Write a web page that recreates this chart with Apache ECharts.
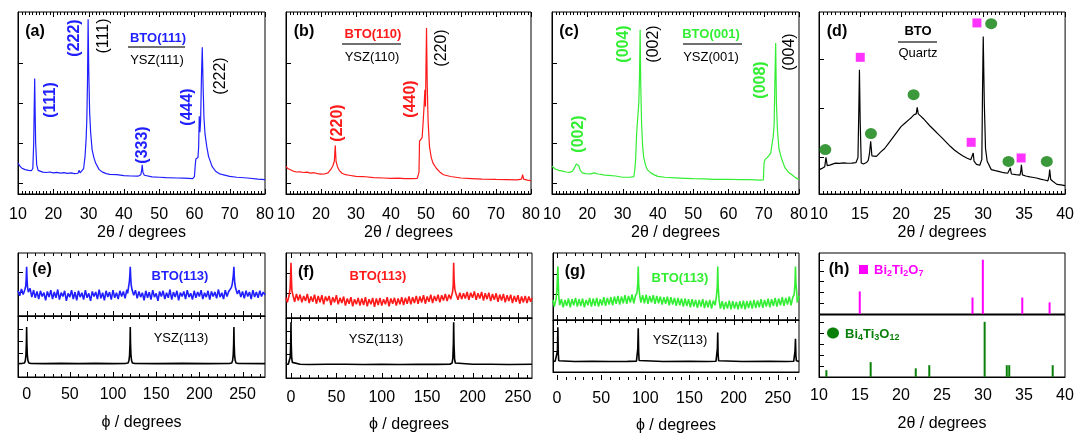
<!DOCTYPE html>
<html><head><meta charset="utf-8">
<script src="https://cdn.jsdelivr.net/npm/echarts@6/dist/echarts.min.js"></script>
<style>html,body{margin:0;padding:0;background:#fff}#c{width:1077px;height:435px}</style>
</head><body><div id="c"></div>
<script>
// ---------------- DATA ----------------
const ticks2theta = [10,20,30,40,50,60,70,80];
const ticks2thetaD = [10,15,20,25,30,35,40];
const ticksPhi = [0,50,100,150,200,250];

// (a) BTO(111)/YSZ(111) theta-2theta
const xrdA = [[10,17.0],[10.5,15.5],[11,14.3],[12,13.4],[13,13.0],[13.8,12.8],[14.2,14],[14.45,28],[14.6,48],[14.73,63.4],[14.85,46],[15.0,28],[15.3,16],[15.7,13],[16,12.4],[17,12.0],[18,11.8],[19,12.1],[20,11.6],[21,11.9],[22,11.5],[23,11.7],[24,11.3],[25,11.6],[26,11.2],[27,11.4],[27.3,13.0],[27.6,11.6],[28,11.8],[28.6,14],[29,20.7],[29.3,30],[29.5,40.8],[29.7,62],[29.87,96],[30.05,68],[30.3,45],[30.6,33.5],[31,24.4],[31.5,20],[32,17],[33,13.4],[34,12],[35,11.2],[36,10.8],[38,10.6],[40,10.1],[42,9.9],[44,9.8],[44.8,10.6],[45.05,13],[45.2,16],[45.4,12],[45.8,10.3],[46,10],[48,9.4],[50,9.2],[52,9.0],[55,8.8],[57,8.7],[59.5,8.4],[60,9.5],[60.2,15],[60.4,19.2],[61,20],[61.2,26],[61.37,42.7],[61.55,34],[61.75,40],[62.0,65],[62.22,80.6],[62.45,60],[62.7,42],[63,33],[63.5,26],[64,20.7],[65,15.2],[66,12.5],[67,11.2],[68,10.6],[70,9.7],[72,9.2],[75,8.8],[78,8.2],[80,7.9]];
// (b) BTO(110)/YSZ(110)
const xrdB = [[10,15.2],[10.5,14],[11,13.4],[12,12.6],[13,12.1],[14,12.2],[15,11.8],[16,12.0],[17,11.5],[18,11.7],[19,11.2],[20,10.9],[21,11.0],[22,11.6],[22.8,13.5],[23.4,15.5],[23.8,18],[24.08,26.7],[24.3,18],[24.7,15],[25.2,13],[26,11.4],[27,10.6],[28,10.3],[30,9.7],[32,9.6],[35,9.0],[38,8.8],[40,8.6],[42,8.7],[44,8.5],[46,8.4],[47.5,8.6],[48.0,12],[48.15,29],[48.6,30],[48.9,31],[49.2,40],[49.5,50],[49.68,57.3],[49.85,48],[50.0,70],[50.15,91.2],[50.35,60],[50.6,40],[51,26],[51.5,20],[52,17],[53,14],[54,12],[55,10.6],[57,9.6],[60,8.8],[63,8.5],[66,8.2],[70,8.0],[73,7.9],[76,7.8],[77.3,8.2],[77.6,10.6],[77.9,8.2],[79,7.6],[80,7.3]];
// (c) BTO(001)/YSZ(001)
const xrdC = [[10,15.2],[10.5,14.3],[11,13.6],[12,13.0],[13,12.6],[14,12.1],[15,11.9],[15.8,12.5],[16.4,14.5],[16.9,16.5],[17.2,17.0],[17.6,15.5],[18,13],[18.6,11.6],[19.5,11.2],[20,11.0],[21,11.1],[22,11.6],[23,11.0],[24,10.8],[25,10.3],[26,10.2],[28,9.9],[30,9.2],[32,9.2],[33.2,9.5],[33.5,14],[33.7,19],[34.0,33.5],[34.3,42],[34.6,50],[34.8,64.7],[34.98,90.3],[35.15,60],[35.4,38],[35.7,26],[36,20],[36.5,16],[37,13.4],[38,11.6],[39,10.5],[40,9.7],[42,9.2],[45,8.9],[48,8.6],[50,8.4],[53,8.3],[56,8.0],[60,8.1],[63,7.9],[66,7.9],[69,7.6],[69.9,7.8],[70.1,17],[70.4,19],[71,20],[71.5,21],[72,22.5],[72.4,28],[72.7,31.7],[72.95,38],[73.15,60],[73.39,83],[73.6,50],[73.9,35],[74.3,25],[75,19.8],[76,14.5],[77,12],[78,10.6],[79,9],[80,7.9]];
// (d) BTO on quartz
const xrdD = [[10,13.4],[10.4,14.1],[10.7,15],[10.85,20.1],[11.0,15.6],[11.3,15.9],[12,17],[12.5,16.8],[13,17.1],[13.5,16.9],[14,17.0],[14.5,17.2],[14.75,20],[14.85,45],[14.93,68.3],[15.02,40],[15.15,17],[15.4,16.5],[15.8,17.3],[16.0,18.5],[16.15,22],[16.3,28.9],[16.45,21],[16.6,20],[17,20.7],[17.5,23],[18,25],[18.5,28],[19,31],[19.5,34],[20,37],[20.5,39],[21,41],[21.3,42.2],[21.6,43.6],[21.85,44],[21.97,47.6],[22.1,44],[22.4,42.8],[22.7,41.5],[23,40],[23.5,37.5],[24,35.3],[24.5,33],[25,30.8],[25.5,28.5],[26,26.2],[26.5,24.2],[27,22.5],[27.5,21],[28,19.8],[28.5,18.8],[28.7,19],[28.8,22.5],[28.9,18],[29.2,16.3],[29.6,15.8],[29.85,19],[29.93,55],[30.02,86.6],[30.15,50],[30.3,25],[30.5,18],[31,13.4],[31.5,12.8],[32,12.3],[32.5,11.7],[33,11.4],[33.2,12],[33.32,14.3],[33.45,11],[34,10.6],[34.5,10.4],[34.6,12.5],[34.67,16.1],[34.8,10.5],[35.2,9.9],[35.7,9.4],[36,9.2],[36.5,8.8],[37,8.2],[37.5,7.7],[37.9,7.2],[38.05,10],[38.12,13.4],[38.25,8],[38.5,7],[38.6,7.8],[38.7,6.6],[39,5.3],[39.5,5.0],[40,4.6]];
const phaseSquares = [[15.03,75.1],[29.25,94.0],[28.55,28.4],[34.64,19.8]];
const phaseCircles = [[10.77,24.4],[16.33,33.2],[21.53,54.6],[30.99,93.6],[33.1,17.9],[37.77,17.9]];

// (e) phi scans
const phiE_BTO = [[-10,40],[-8,32],[-6,43],[-4,34],[-2,42],[-1,48],[-0.5,60],[0,78],[0.5,58],[1,46],[2,38],[4,44],[6,30],[8,41],[10,29],[12,39],[14,27],[16,40],[18,31],[20,37],[22,25],[24,39],[26,30],[28,41],[30,27],[32,38],[34,29],[36,42],[38,26],[40,37],[42,31],[44,40],[46,24],[48,36],[50,30],[52,41],[54,27],[56,38],[58,25],[60,40],[62,30],[64,37],[66,26],[68,41],[70,29],[72,36],[74,24],[76,39],[78,31],[80,38],[82,27],[84,42],[86,28],[88,37],[90,25],[92,40],[94,30],[96,38],[98,26],[100,41],[102,29],[104,37],[106,27],[108,40],[110,31],[112,39],[114,28],[116,42],[117,36],[118,46],[119,55],[119.5,65],[120,78],[120.5,62],[121,50],[122,42],[124,33],[126,41],[128,28],[130,39],[132,30],[134,37],[136,25],[138,40],[140,29],[142,38],[144,26],[146,41],[148,30],[150,36],[152,24],[154,39],[156,31],[158,40],[160,27],[162,37],[164,29],[166,42],[168,26],[170,38],[172,30],[174,40],[176,25],[178,37],[180,31],[182,39],[184,27],[186,41],[188,30],[190,36],[192,26],[194,40],[196,29],[198,38],[200,31],[202,41],[204,27],[206,37],[208,30],[210,40],[212,26],[214,39],[216,31],[218,38],[220,28],[222,42],[224,30],[226,37],[228,27],[230,41],[232,31],[234,39],[236,36],[237,45],[238,50],[239,60],[239.5,68],[240,78],[240.5,62],[241,52],[242,44],[244,35],[246,41],[248,30],[250,39],[252,28],[254,40],[256,31],[258,38],[260,27],[262,41],[264,30],[266,38],[268,29],[270,40],[272,31],[274,38],[276,33]];
const phiE_YSZ = [[-10,22],[-5,22.4],[-2.5,23],[-1.5,27],[-0.8,36],[-0.3,55],[0,82],[0.3,55],[0.8,36],[1.5,27],[2.5,23],[5,22.3],[20,22],[40,22.4],[60,22],[80,22.3],[100,22],[115,22.4],[117.5,23],[118.5,27],[119.2,36],[119.7,55],[120,82],[120.3,55],[120.8,36],[121.5,27],[122.5,23],[125,22.3],[150,22],[180,22.4],[210,22],[235,22.3],[237.5,23],[238.5,27],[239.2,36],[239.7,55],[240,82],[240.3,55],[240.8,36],[241.5,27],[242.5,23],[245,22.2],[276,22]];
// (f)
const phiF_BTO = [[-5.5,31],[-4,24],[-2,35],[-1,45],[-0.5,62],[0,85],[0.5,60],[1,42],[2,36],[4,25],[6,37],[8,27],[10,36],[12,24],[14,34],[16,26],[18,37],[20,23],[22,33],[24,25],[26,36],[28,22],[30,34],[32,24],[34,35],[36,21],[38,33],[40,26],[42,34],[44,20],[46,32],[48,24],[50,35],[52,21],[54,31],[56,23],[58,33],[60,19],[62,30],[64,22],[66,32],[68,18],[70,29],[72,21],[74,31],[76,19],[78,30],[80,20],[82,32],[84,18],[86,29],[88,21],[90,31],[92,17],[94,30],[96,20],[98,31],[100,19],[102,29],[104,21],[106,32],[108,18],[110,30],[112,22],[114,31],[116,19],[118,30],[120,21],[122,32],[124,20],[126,31],[128,22],[130,33],[132,21],[134,32],[136,23],[138,34],[140,22],[142,33],[144,24],[146,35],[148,22],[150,33],[152,25],[154,36],[156,23],[158,34],[160,26],[162,36],[164,24],[166,35],[168,27],[170,37],[172,26],[174,36],[176,29],[178,40],[178.7,50],[179.2,85],[179.7,58],[180.5,44],[182,36],[184,28],[186,39],[188,29],[190,38],[192,30],[194,40],[196,28],[198,39],[200,31],[202,41],[204,28],[206,38],[208,30],[210,40],[212,27],[214,38],[216,29],[218,39],[220,26],[222,37],[224,28],[226,38],[228,25],[230,36],[232,27],[234,37],[236,24],[238,35],[240,26],[242,36],[244,23],[246,34],[248,25],[250,35],[252,22],[254,33],[256,24],[258,34],[260,23],[262,33],[264,25],[265.5,31]];
const phiF_YSZ = [[-5.5,23],[-3,23],[-1.5,26],[-0.8,35],[-0.3,60],[0,93],[0.3,55],[0.8,33],[1.5,26],[3,23.5],[10,23],[20,22.5],[40,23],[60,22.8],[80,22.5],[100,23],[120,22.6],[140,23],[160,22.7],[175,23],[177.5,25],[178.3,33],[178.9,58],[179.2,93],[179.6,55],[180.2,32],[181,25],[183,23],[200,22.8],[220,23],[240,22.6],[265.5,23]];
// (g)
const phiG_BTO = [[-4.5,30],[-3,20],[-1,32],[0,45],[0.5,62],[1,80],[1.5,55],[2,36],[3,22],[5,31],[7,19],[9,30],[11,21],[13,32],[15,19],[17,31],[19,22],[21,33],[23,20],[25,31],[27,21],[29,32],[31,19],[33,30],[35,22],[37,33],[39,20],[41,32],[43,21],[45,33],[47,20],[49,31],[51,22],[53,34],[55,21],[57,33],[59,23],[61,34],[63,22],[65,35],[67,24],[69,36],[71,23],[73,35],[75,25],[77,37],[79,24],[81,36],[83,26],[85,38],[87,25],[89,37],[90.5,40],[91.5,55],[92,80],[92.5,52],[93.5,38],[95,26],[97,37],[99,25],[101,38],[103,24],[105,36],[107,26],[109,37],[111,24],[113,36],[115,25],[117,35],[119,23],[121,34],[123,24],[125,35],[127,22],[129,34],[131,23],[133,33],[135,21],[137,33],[139,22],[141,32],[143,20],[145,32],[147,21],[149,31],[151,19],[153,31],[155,20],[157,30],[159,18],[161,30],[163,20],[165,31],[167,18],[169,29],[171,19],[173,30],[175,17],[177,29],[179,22],[180.5,35],[181.5,50],[182,80],[182.5,50],[183.5,30],[185,17],[187,28],[189,16],[191,27],[193,17],[195,29],[197,16],[199,28],[201,17],[203,27],[205,16],[207,28],[209,17],[211,29],[213,16],[215,28],[217,18],[219,29],[221,17],[223,30],[225,18],[227,29],[229,19],[231,31],[233,18],[235,30],[237,20],[239,32],[241,19],[243,31],[245,21],[247,33],[249,20],[251,32],[253,22],[255,34],[257,21],[259,33],[261,23],[263,35],[265,22],[267,34],[268.5,38],[269.5,55],[270,80],[270.5,55],[271.5,40],[272,26],[274,36]];
const phiG_YSZ = [[-4.5,20.5],[-2,20.8],[0,21.5],[0.5,40],[1,86],[1.5,35],[2,21.5],[4,20.5],[20,20.3],[40,20.6],[60,20.2],[80,20.5],[90,20.8],[91,24],[91.5,45],[92,84],[92.5,38],[93,22],[95,20.6],[120,20.3],[150,20.5],[170,20.2],[180,20.6],[181,24],[181.6,45],[182,76],[182.4,35],[183,21.5],[185,20.4],[210,20.2],[240,20.5],[260,20.3],[268,20.6],[269,24],[269.5,40],[270,64],[270.5,32],[271,21.5],[274,20.4]];
// (h) reference patterns
const bi2ti2o7Pos = [14.97,28.72,29.98,34.79,38.12];
const bi2ti2o7Int = [37,27,89,27,19];
const bi4ti3o12Pos = [10.9,16.3,21.8,23.45,30.2,32.9,33.2,38.5];
const bi4ti3o12Int = [11,24,14,19,89,19,19,19];

(function(){
// ---------------- BUILD ----------------
const FONT = '"Liberation Sans", Arial, sans-serif';
const COL = {blue:'#1f1fff', red:'#ff1a1a', green:'#33ee33', black:'#000000', magenta:'#ff00ff', dgreen:'#0a800a', rule:'#707070'};
const grid=[], xAxis=[], yAxis=[], series=[], graphic=[], tickPlans=[];

function range(min,max,step){const a=[];for(let v=Math.ceil(min/step-1e-9)*step; v<=max+1e-9; v+=step){a.push(Math.round(v*1000)/1000);}return a;}

function addPanel(p){
  const gi = grid.length;
  grid.push({left:p.left, top:p.top, width:p.width, height:p.height, show:true, borderColor:'#000', borderWidth:1, backgroundColor:'transparent'});
  const xi = xAxis.length;
  const main = {gridIndex:gi, type:'value', min:p.min, max:p.max, position:'bottom',
    axisLine:{show:true, onZero:false, lineStyle:{color:'#000', width:1}}, splitLine:{show:false}, axisTick:{show:false}, axisLabel:{show:false}};
  if (p.labels){
    main.axisLabel = {show:true, customValues:p.majors, interval:0, margin:p.margin, fontSize:16, color:'#000', fontFamily:FONT};
    main.name = p.name; main.nameLocation = 'middle'; main.nameGap = p.nameGap;
    main.nameTextStyle = {fontSize:16, color:'#000', fontFamily:FONT};
  }
  xAxis.push(main);
  const yi = yAxis.length;
  yAxis.push({gridIndex:gi, type:'value', min:0, max:100, position:'left',
    axisLine:{show:true, onZero:false, lineStyle:{color:'#000', width:1}},
    axisTick:{show:true, inside:true, length:5, customValues:p.yTicks, lineStyle:{color:'#000'}},
    axisLabel:{show:false}, splitLine:{show:false}});
  if (p.xticks !== false){
    const minors = range(p.min, p.max, p.minorStep).filter(v => p.majors.indexOf(v) < 0);
    tickPlans.push({xi, top:p.top, bottom:p.top + p.height, majors:p.majors, minors});
  }
  return {xi, yi};
}
function addLine(ax, data, color, width){
  series.push({type:'line', xAxisIndex:ax.xi, yAxisIndex:ax.yi, data:data, showSymbol:false, symbol:'none',
    lineStyle:{color:color, width:width||1}, itemStyle:{color:color}, animation:false, silent:true, z:3});
}
const NAME2T = '2θ / degrees';
const NAMEPHI = 'ϕ / degrees';

// top row
const rowTop = {top:12, height:182, yTicks:[6,28,50,72], labels:true, name:NAME2T, margin:13, nameGap:31};
const pA = addPanel(Object.assign({}, rowTop, {left:18, width:247, min:10, max:80, majors:ticks2theta, minorStep:1}));
const pB = addPanel(Object.assign({}, rowTop, {left:286, width:245, min:10, max:80, majors:ticks2theta, minorStep:1}));
const pC = addPanel(Object.assign({}, rowTop, {left:552, width:247, min:10, max:80, majors:ticks2theta, minorStep:1}));
const pD = addPanel(Object.assign({}, rowTop, {left:819, width:247, min:10, max:40, majors:ticks2thetaD, minorStep:0.5, yTicks:[20,47,74]}));
addLine(pA, xrdA, COL.blue, 1.2);
addLine(pB, xrdB, COL.red, 1.2);
addLine(pC, xrdC, COL.green, 1.2);
addLine(pD, xrdD, COL.black, 1.2);
series.push({type:'scatter', xAxisIndex:pD.xi, yAxisIndex:pD.yi, data:phaseSquares, symbol:'rect', symbolSize:9, itemStyle:{color:COL.magenta}, animation:false, silent:true, z:4});
series.push({type:'scatter', xAxisIndex:pD.xi, yAxisIndex:pD.yi, data:phaseCircles, symbol:'circle', symbolSize:[12,11], itemStyle:{color:COL.dgreen}, animation:false, silent:true, z:4});

// bottom row
function phiPanel(left, width, min, max, t1, h1, t2, h2, margin, nameGap){
  const u = addPanel({left, width, top:t1, height:h1, min, max, majors:ticksPhi, minorStep:10, yTicks:[38,69]});
  const d = addPanel({left, width, top:t2, height:h2, min, max, majors:ticksPhi, minorStep:10, yTicks:[39,58,78], labels:true, name:NAMEPHI, margin, nameGap});
  return [u,d];
}
const [eU,eD] = phiPanel(18, 247, -10, 276, 253, 63, 316, 61, 10, 38);
const [fU,fD] = phiPanel(286, 246, -5.5, 265.5, 253, 65, 318, 60, 12, 39);
const [gU,gD] = phiPanel(553, 246, -4.5, 274, 253, 67, 320, 60, 19, 46);
addLine(eU, phiE_BTO, COL.blue, 1.6);
addLine(eD, phiE_YSZ, COL.black, 1.6);
addLine(fU, phiF_BTO, COL.red, 1.6);
addLine(fD, phiF_YSZ, COL.black, 1.6);
addLine(gU, phiG_BTO, COL.green, 1.6);
addLine(gD, phiG_YSZ, COL.black, 1.6);

const hU = addPanel({left:819, width:246, top:253, height:61, min:10, max:40, majors:ticks2thetaD, xticks:false, yTicks:[18,35.5,53,70.5,88]});
const hD = addPanel({left:819, width:246, top:315, height:62, min:10, max:40, majors:ticks2thetaD, xticks:false, yTicks:[18,35.5,53,70.5,88], labels:true, name:NAME2T, margin:11, nameGap:39});
series.push({type:'bar', xAxisIndex:hU.xi, yAxisIndex:hU.yi, data:bi2ti2o7Pos.map((x,i)=>[x,bi2ti2o7Int[i]]), barWidth:2, itemStyle:{color:COL.magenta}, animation:false, silent:true});
series.push({type:'bar', xAxisIndex:hD.xi, yAxisIndex:hD.yi, data:bi4ti3o12Pos.map((x,i)=>[x,bi4ti3o12Int[i]]), barWidth:2, itemStyle:{color:COL.dgreen}, animation:false, silent:true});

// ---------------- ANNOTATIONS ----------------
function txt(x,y,text,color,size,bold,rot){
  graphic.push({type:'text', x:x, y:y, rotation: rot ? Math.PI/2 : 0, z:100, silent:true,
    style:{text:text, fill:color, font:(bold?'bold ':'')+size+'px '+FONT, align:'center', verticalAlign:'middle', textAlign:'center', textVerticalAlign:'middle'}});
}
function rule(x1,x2,y){graphic.push({type:'line', z:100, silent:true, shape:{x1,y1:y,x2,y2:y}, style:{stroke:COL.rule, lineWidth:2}});}
[['(a)',35,32],['(b)',304,32],['(c)',569,32],['(d)',837,32],['(e)',42,270],['(f)',306,273],['(g)',575,272],['(h)',839,270]].forEach(a=>txt(a[1],a[2],a[0],'#000',16,true,false));
// (a)
txt(51,100,'(111)',COL.blue,16,true,true);
txt(75,38,'(222)',COL.blue,16,true,true);
txt(104,36,'(111)','#000',16,false,true);
txt(143,145,'(333)',COL.blue,16,true,true);
txt(188,107,'(444)',COL.blue,16,true,true);
txt(221,76,'(222)','#000',16,false,true);
txt(158,38,'BTO(111)',COL.blue,13,true,false); rule(128,185,47); txt(157,60,'YSZ(111)','#000',13,false,false);
// (b)
txt(373,34,'BTO(110)',COL.red,13,true,false); rule(342,401,44); txt(372,57,'YSZ(110)','#000',13,false,false);
txt(338,123,'(220)',COL.red,16,true,true);
txt(411,99,'(440)',COL.red,16,true,true);
txt(442,48,'(220)','#000',16,false,true);
// (c)
txt(711,34,'BTO(001)',COL.green,13,true,false); rule(683,742,44); txt(711,57,'YSZ(001)','#000',13,false,false);
txt(579,134,'(002)',COL.green,16,true,true);
txt(624,44,'(004)',COL.green,16,true,true);
txt(654,44,'(002)','#000',16,false,true);
txt(761,80,'(008)',COL.green,16,true,true);
txt(790,52,'(004)','#000',16,false,true);
// (d)
txt(918,31,'BTO','#000',13,true,false); rule(898,937,42); txt(918,53,'Quartz','#000',13,false,false);
// (e)(f)(g)
txt(180,276,'BTO(113)',COL.blue,13,true,false); txt(181,338,'YSZ(113)','#000',13,false,false);
txt(378,276,'BTO(113)',COL.red,13,true,false); txt(376,339,'YSZ(113)','#000',13,false,false);
txt(680,278,'BTO(113)',COL.green,13,true,false); txt(680,340,'YSZ(113)','#000',13,false,false);
// (h) legend-like labels
graphic.push({type:'rect', z:100, silent:true, shape:{x:859,y:265,width:9,height:9}, style:{fill:COL.magenta}});
graphic.push({type:'ellipse', z:100, silent:true, shape:{cx:833,cy:333,rx:6,ry:5.5}, style:{fill:COL.dgreen}});
function chem(x,y,parts,color){
  let t=''; parts.forEach(p=>{t += p[1] ? '{s|'+p[0]+'}' : '{m|'+p[0]+'}';});
  graphic.push({type:'text', x:x, y:y, z:100, silent:true, style:{text:t, align:'left', verticalAlign:'middle', textAlign:'left', textVerticalAlign:'middle',
    rich:{m:{fill:color, color:color, fontSize:13, fontWeight:'bold', fontFamily:FONT}, s:{fill:color, color:color, fontSize:9, fontWeight:'bold', fontFamily:FONT, padding:[7,0,0,0]}}}});
}
chem(874,270,[['Bi',0],['2',1],['Ti',0],['2',1],['O',0],['7',1]],COL.magenta);
chem(845,334,[['Bi',0],['4',1],['Ti',0],['3',1],['O',0],['12',1]],COL.dgreen);

const chart = echarts.init(document.getElementById('c'), null, {renderer:'canvas'});
chart.setOption({animation:false, backgroundColor:'#fff', textStyle:{fontFamily:FONT}, grid, xAxis, yAxis, series});

// x-axis tick marks on top and bottom frame edges, positioned through each x axis scale
tickPlans.forEach(tp => {
  const put = (v, len) => {
    const px = chart.convertToPixel({xAxisIndex: tp.xi}, v);
    if (px == null || isNaN(px)) return;
    const x = Math.round(px) + 0.5;
    graphic.push({type:'line', z:90, silent:true, shape:{x1:x, y1:tp.bottom, x2:x, y2:tp.bottom - len}, style:{stroke:'#000', lineWidth:1}});
    graphic.push({type:'line', z:90, silent:true, shape:{x1:x, y1:tp.top, x2:x, y2:tp.top + len}, style:{stroke:'#000', lineWidth:1}});
  };
  tp.majors.forEach(v => put(v, 5));
  tp.minors.forEach(v => put(v, 3));
});
chart.setOption({graphic:{elements:graphic}});
})();
</script></body></html>
